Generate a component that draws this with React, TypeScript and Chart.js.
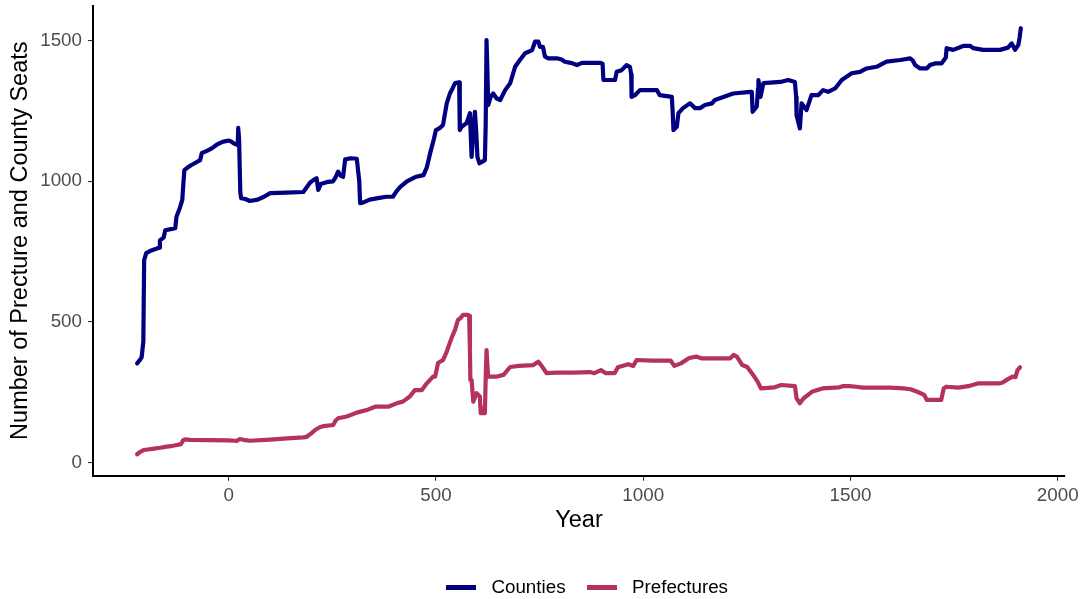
import React, { useEffect, useRef } from "react";
import { Chart, registerables } from "chart.js";

Chart.register(...registerables);

const countyYears = [
  -221, -214, -210, -206, -204, -199, -190, -175, -168, -166, -157, -153, -140, -129, -126, -118, -112, -109, -107,
  -101, -90, -80, -69, -65, -50, -40, -29, -15, 0, 5, 12, 19, 22, 23, 25, 28, 30, 40, 51, 70, 85, 100, 140, 180,
  196, 205, 212, 216, 222, 240, 252, 258, 264, 270, 276, 281, 295, 309, 312, 315, 317, 325, 340, 360, 380, 396,
  405, 414, 430, 450, 470, 478, 486, 495, 500, 510, 517, 526, 534, 540, 546, 556, 557, 558, 562, 574, 582, 583,
  586, 590, 594, 597, 600, 605, 612, 618, 620, 622, 624, 626, 632, 638, 646, 655, 667, 679, 691, 703, 715, 732,
  739, 747, 751, 758, 763, 771, 792, 803, 811, 828, 840, 852, 896, 902, 904, 932, 936, 948, 960, 968, 971, 972,
  980, 992, 1033, 1040, 1069, 1071, 1073, 1081, 1085, 1096, 1113, 1125, 1137, 1149, 1166, 1173, 1185, 1217,
  1258, 1262, 1264, 1274, 1277, 1278, 1283, 1290, 1331, 1350, 1366, 1369, 1370, 1378, 1382, 1394, 1406, 1422,
  1434, 1446, 1463, 1479, 1503, 1523, 1539, 1563, 1587, 1620, 1644, 1650, 1656, 1668, 1684, 1692, 1704, 1720,
  1730, 1732, 1748, 1772, 1789, 1796, 1820, 1861, 1880, 1889, 1897, 1905, 1908, 1911,
];
const countyValues = [
  353, 365, 375, 430, 720, 745, 752, 760, 764, 790, 800, 826, 830, 833, 874, 905, 934, 1000, 1040,
  1047, 1058, 1066, 1075, 1100, 1110, 1118, 1130, 1140, 1145, 1142, 1135, 1130, 1140, 1190, 1150, 960, 940, 937, 930, 935, 945, 958, 960, 962,
  995, 1005, 1011, 969, 990, 998, 1000, 1015, 1034, 1020, 1016, 1078, 1082, 1080, 1040, 1000, 922, 925, 935, 940, 945, 945,
  965, 980, 1000, 1015, 1022, 1050, 1100, 1150, 1182, 1190, 1200, 1277, 1313, 1330, 1349, 1352, 1250, 1182, 1194, 1207, 1242, 1200,
  1087, 1180, 1247, 1180, 1087, 1064, 1070, 1075, 1200, 1502, 1400, 1271, 1300, 1312, 1295, 1289, 1324, 1348, 1407, 1432, 1455, 1466,
  1496, 1496, 1478, 1478, 1443, 1437, 1437, 1433, 1425, 1420, 1413, 1421, 1421, 1418, 1360, 1360, 1389, 1395, 1413, 1407, 1380, 1300,
  1306, 1324, 1324, 1306, 1300, 1250, 1182, 1194, 1242, 1260, 1277, 1260, 1260, 1271, 1277, 1289, 1295, 1312,
  1318, 1318, 1247, 1266, 1330, 1360, 1300, 1349, 1353, 1360, 1353, 1300, 1235, 1188, 1277, 1253, 1306, 1306,
  1324, 1318, 1330, 1360, 1384, 1389, 1401, 1407, 1425, 1431, 1437, 1430, 1413, 1401, 1401, 1413, 1419, 1419,
  1440, 1473, 1467, 1481, 1481, 1473, 1467, 1467, 1475, 1490, 1467, 1485, 1510, 1544,
];

const prefectureYears = [
  -221, -214, -205, -195, -180, -165, -150, -135, -125, -115, -110, -105, -93, -50, 0, 15, 19, 27, 40, 51, 100, 150,
  180, 188, 200, 210, 220, 228, 252, 258, 264, 285, 309, 333, 353, 385, 405, 420, 437, 449, 466, 478, 493, 498,
  505, 517, 525, 530, 539, 546, 553, 560, 565, 577, 580, 582, 583, 586, 590, 598, 606, 607, 608, 618, 620, 622,
  624, 626, 647, 663, 679, 700, 735, 747, 755, 767, 791, 830, 872, 882, 898, 910, 931, 939, 964, 976, 984, 1021,
  1066, 1075, 1091, 1111, 1128, 1140, 1210, 1218, 1226, 1239, 1251, 1268, 1276, 1284, 1317, 1333, 1366, 1370,
  1378, 1387, 1407, 1432, 1473, 1481, 1497, 1514, 1530, 1596, 1628, 1645, 1661, 1678, 1684, 1719, 1725, 1731,
  1760, 1784, 1809, 1858, 1866, 1879, 1891, 1898, 1903, 1909,
];
const prefectureValues = [
  30, 38, 45, 47, 50, 53, 57, 60, 63, 66, 80, 83, 81, 80, 79, 78, 77, 84, 80, 78, 82, 87,
  90, 92, 105, 118, 126, 130, 134, 150, 158, 164, 178, 187, 199, 199, 211, 217, 235, 258, 258, 282, 306, 306,
  354, 365, 390, 412, 448, 472, 507, 515, 525, 525, 522, 400, 294, 294, 217, 247, 235, 200, 176, 176, 300, 400,
  350, 306, 306, 312, 340, 344, 347, 359, 344, 318, 320, 320, 322, 318, 329, 318, 318, 339, 350, 344, 365, 363,
  363, 344, 353, 372, 377, 371, 371, 383, 377, 347, 340, 306, 288, 264, 268, 276, 272, 229,
  211, 229, 252, 264, 268, 272, 272, 270, 267, 267, 264, 261, 252, 241, 223, 223, 264, 270,
  267, 272, 282, 282, 284, 296, 306, 304, 329, 339,
];

const seriesNames = ["Counties", "Prefectures"];
const seriesColors = ["#000080", "#B4325F"];
const xTicks = [0, 500, 1000, 1500, 2000];
const yTicks = [0, 500, 1000, 1500];
const xTitle = "Year";
const yTitle = "Number of Precture and County Seats";

const FONT = "'Liberation Sans', Arial, Helvetica, sans-serif";

function makeSwatch(color: string): HTMLCanvasElement {
  const c = document.createElement("canvas");
  c.width = 30;
  c.height = 5;
  const g = c.getContext("2d");
  if (g) {
    g.fillStyle = color;
    g.fillRect(0, 0, 30, 5);
  }
  return c;
}

export default function App() {
  const ref = useRef<HTMLCanvasElement>(null);

  useEffect(() => {
    const canvas = ref.current;
    if (!canvas) return;
    const swatches = seriesColors.map(makeSwatch);

    const legendShift = {
      id: "legendShift",
      afterLayout(chart: any) {
        const lg = chart.legend;
        if (!lg) return;
        lg.left += 5;
        lg.right += 5;
        lg.top += 8;
        lg.bottom += 8;
      },
    };

    const toPoints = (xs: number[], ys: number[]) => xs.map((x, i) => ({ x, y: ys[i] }));

    const chart = new Chart(canvas, {
      type: "line",
      data: {
        datasets: [
          {
            label: seriesNames[0],
            data: toPoints(countyYears, countyValues),
            borderColor: seriesColors[0],
            backgroundColor: seriesColors[0],
            borderWidth: 4.2,
            pointRadius: 0,
            tension: 0,
            borderJoinStyle: "round",
            borderCapStyle: "round",
            fill: false,
          },
          {
            label: seriesNames[1],
            data: toPoints(prefectureYears, prefectureValues),
            borderColor: seriesColors[1],
            backgroundColor: seriesColors[1],
            borderWidth: 4.2,
            pointRadius: 0,
            tension: 0,
            borderJoinStyle: "round",
            borderCapStyle: "round",
            fill: false,
          },
        ],
      },
      options: {
        animation: false,
        responsive: false,
        events: [],
        layout: { padding: { left: 0, right: 19, top: 5.7, bottom: 0 } },
        plugins: {
          tooltip: { enabled: false },
          legend: {
            position: "bottom",
            fullSize: false,
            labels: {
              usePointStyle: true,
              pointStyleWidth: 42,
              padding: 15,
              color: "#000000",
              font: { family: FONT, size: 18.8 },
              generateLabels(ch: any) {
                const items = (Chart.defaults as any).plugins.legend.labels.generateLabels(ch);
                items.forEach((it: any) => {
                  it.pointStyle = swatches[it.datasetIndex];
                  it.lineWidth = 0;
                });
                return items;
              },
            },
          },
        },
        scales: {
          x: {
            type: "linear",
            min: -327.4,
            max: 2017.6,
            afterBuildTicks: (s: any) => {
              s.ticks = xTicks.map((v) => ({ value: v }));
            },
            afterFit: (s: any) => {
              s.height = 79.5;
            },
            ticks: {
              autoSkip: false,
              maxRotation: 0,
              padding: 4,
              color: "#4D4D4D",
              font: { family: FONT, size: 18.8 },
              callback: (v: any) => String(v),
            },
            grid: {
              display: true,
              drawOnChartArea: false,
              drawTicks: true,
              tickLength: 5,
              color: "#333333",
              lineWidth: 1.1,
            },
            border: { display: true, color: "#000000", width: 2 },
            title: {
              display: true,
              text: xTitle,
              color: "#000000",
              font: { family: FONT, size: 23.5 },
              padding: { top: 0, bottom: 21 },
            },
          },
          y: {
            type: "linear",
            min: -46.2,
            max: 1624,
            afterBuildTicks: (s: any) => {
              s.ticks = yTicks.map((v) => ({ value: v }));
            },
            afterFit: (s: any) => {
              s.width = 93;
              s.paddingTop = 0;
              s.paddingBottom = 0;
            },
            ticks: {
              autoSkip: false,
              padding: 6,
              color: "#4D4D4D",
              font: { family: FONT, size: 18.8 },
              callback: (v: any) => String(v),
            },
            grid: {
              display: true,
              drawOnChartArea: false,
              drawTicks: true,
              tickLength: 5,
              color: "#333333",
              lineWidth: 1.1,
            },
            border: { display: true, color: "#000000", width: 2 },
            title: {
              display: true,
              text: yTitle,
              color: "#000000",
              font: { family: FONT, size: 23.5 },
              padding: { top: 6, bottom: 0 },
            },
          },
        },
      } as any,
      plugins: [legendShift],
    });

    return () => chart.destroy();
  }, []);

  return (
    <div style={{ position: "fixed", left: 0, top: 0, width: 1084, height: 599, background: "#ffffff" }}>
      <canvas ref={ref} width={1084} height={599} style={{ display: "block" }} />
    </div>
  );
}
